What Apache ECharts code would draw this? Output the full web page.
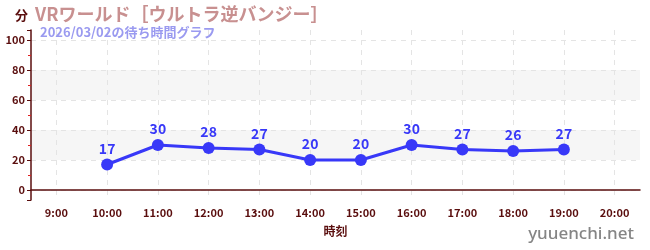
<!DOCTYPE html>
<html><head><meta charset="utf-8">
<script src="https://cdn.jsdelivr.net/npm/echarts@6/dist/echarts.min.js"></script>
<style>html,body{margin:0;padding:0;background:#fff}#c{width:650px;height:250px}</style>
</head><body><div id="c"></div>
<script>
const hours = ['9:00','10:00','11:00','12:00','13:00','14:00','15:00','16:00','17:00','18:00','19:00','20:00'];
const waitTimes = [null,17,30,28,27,20,20,30,27,26,27,null];
const titleText = 'VRワールド［ウルトラ逆バンジー］';
const subText = '2026/03/02の待ち時間グラフ';

const FONT = '"Noto Sans CJK JP", "Noto Sans", sans-serif';
const MAROON = '#5a0e0e';
const chart = echarts.init(document.getElementById('c'), null, {renderer:'canvas'});
const none = 'rgba(0,0,0,0)';
chart.setOption({
  animation:false,
  textStyle:{fontFamily:FONT},
  title:[
    {text:titleText, left:30, top:0, textStyle:{fontFamily:FONT, fontSize:18, fontWeight:'bold', color:'#c89090'}},
    {text:subText, left:35, top:21, textStyle:{fontFamily:FONT, fontSize:13, fontWeight:'bold', color:'#9a9af0'}}
  ],
  graphic:[{type:'text', right:16, bottom:7, style:{text:'yuuenchi.net', font:'500 17px "Noto Sans", sans-serif', fill:'#858585'}}],
  grid:{left:31, right:10, top:30, bottom:50},
  xAxis:{
    type:'category', data:hours, boundaryGap:true,
    name:'時刻', nameLocation:'middle', nameGap:25,
    nameTextStyle:{color:MAROON, fontWeight:'bold', fontSize:12, fontFamily:FONT},
    axisLine:{lineStyle:{color:MAROON, width:1.5}},
    axisTick:{alignWithLabel:true, length:4, lineStyle:{color:'#777'}},
    axisLabel:{color:MAROON, fontWeight:'bold', fontSize:11, margin:7, interval:0},
    splitLine:{show:true, alignWithLabel:true, lineStyle:{color:'#e4e4e4', type:[5,5]}}
  },
  yAxis:{
    type:'value', min:-6.67, max:106.67, splitNumber:5,
    name:'分', nameLocation:'end', nameGap:8,
    nameTextStyle:{color:MAROON, fontWeight:'bold', fontSize:13, align:'right', verticalAlign:'bottom', padding:[0,3,0,0]},
    axisLine:{show:true, lineStyle:{color:MAROON, width:1.5}},
    axisTick:{show:true, length:4, lineStyle:{color:MAROON}},
    minorTick:{show:true, splitNumber:2, length:3, lineStyle:{color:'#e02020'}},
    axisLabel:{color:MAROON, fontWeight:'bold', fontSize:11, margin:6, showMinLabel:false, showMaxLabel:false},
    splitLine:{show:true, lineStyle:{color:[none,'#e4e4e4','#e4e4e4','#e4e4e4','#e4e4e4','#e4e4e4','#e4e4e4',none], type:[5,5]}},
    splitArea:{show:true, areaStyle:{color:[none,none,'#f6f6f6',none,'#f6f6f6',none,none]}}
  },
  series:[{
    type:'line', data:waitTimes, connectNulls:false,
    symbol:'circle', symbolSize:12,
    lineStyle:{color:'#3838f8', width:3},
    itemStyle:{color:'#3838f8'},
    label:{show:true, position:'top', distance:3, color:'#3838f8', fontWeight:'bold', fontSize:14, fontFamily:FONT}
  }]
});
</script></body></html>
